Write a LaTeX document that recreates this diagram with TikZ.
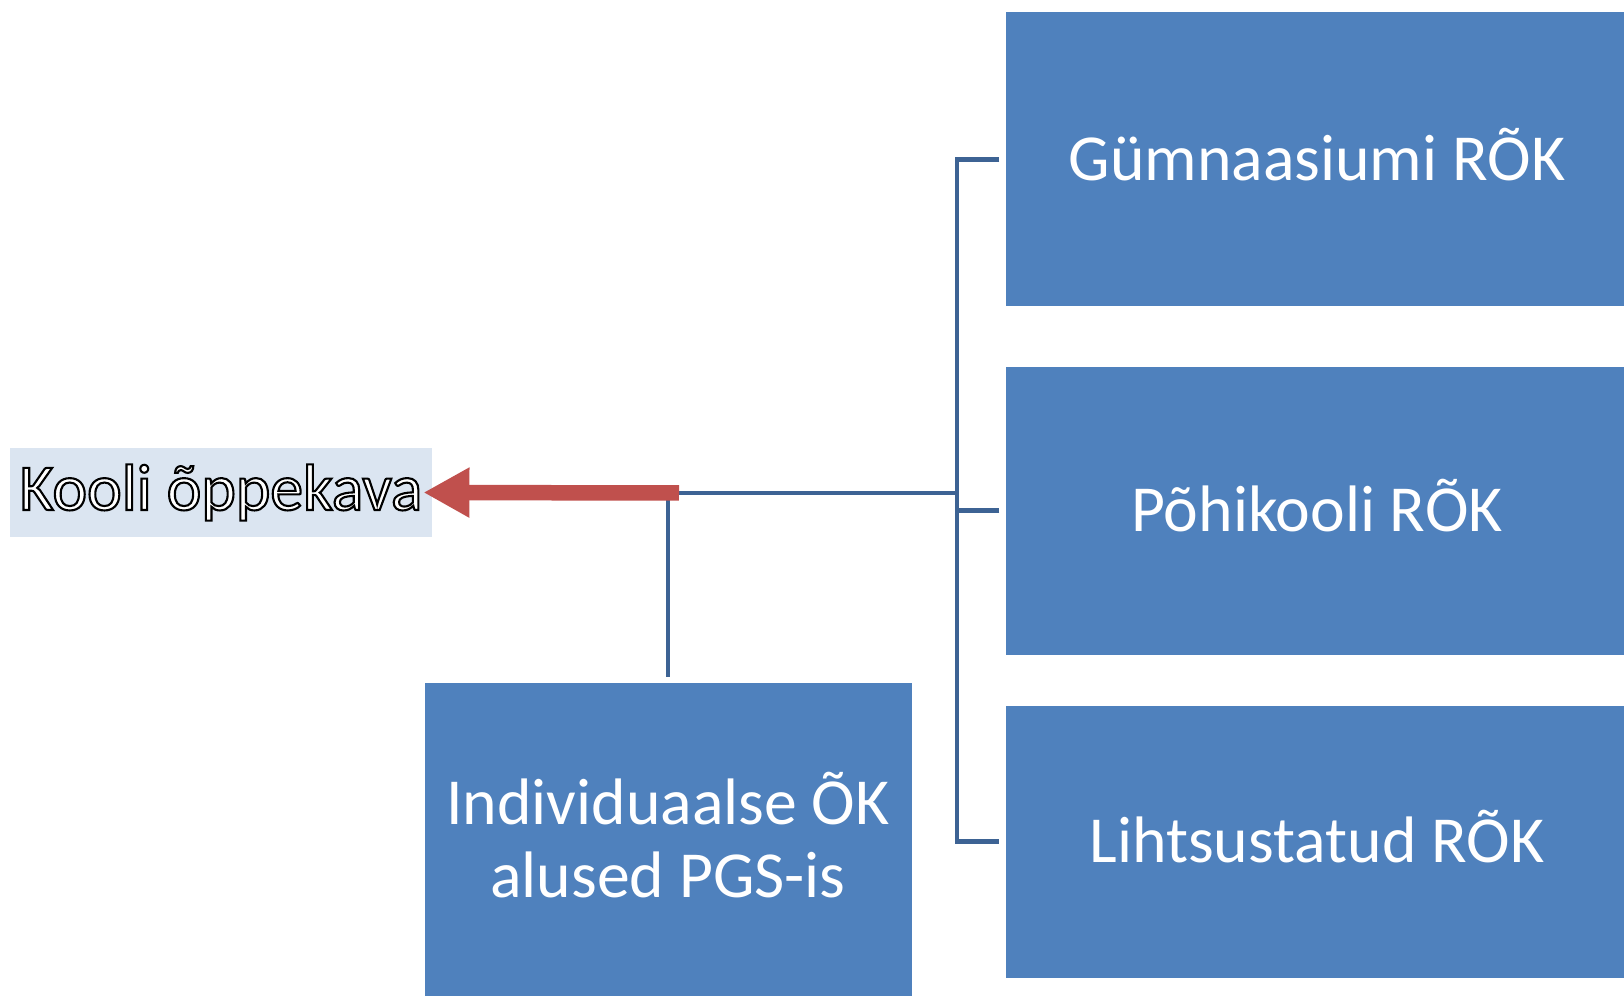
\documentclass[tikz,border=0pt]{standalone}
\usepackage{fontspec}
\setmainfont{Carlito}
\usetikzlibrary{arrows.meta}
\newcommand{\outlined}[1]{\special{pdf:literal 2 Tr 0.6 w 0 G}#1\special{pdf:literal 0 Tr}}
\definecolor{rokblue}{HTML}{4F81BD}
\definecolor{linkblue}{HTML}{3D6394}
\definecolor{arrowred}{HTML}{C0504D}
\definecolor{paleblue}{HTML}{DBE5F1}
\tikzset{rokbox/.style = {fill = rokblue, text = white, align = center, inner sep = 0, text depth = 0.1cm,
                          font = \fontsize{18.7}{20.6}\selectfont}}
\tikzset{link/.style = {draw = linkblue, line width = 1.4pt}}
\tikzset{bigarrow/.style = {draw = arrowred, line width = 0.155cm,
                            -{Triangle[length = 0.46cm, width = 0.47cm]}}}

\begin{document}
\begin{tikzpicture}
    \useasboundingbox (0, 0) rectangle (16.24, 9.95);

    \node [rokbox, minimum width = 6.22cm, minimum height = 2.94cm] (gym) at (13.17, 8.355) {Gümnaasiumi RÕK};
    \node [rokbox, minimum width = 6.22cm, minimum height = 2.88cm] (pohi) at (13.17, 4.844) {Põhikooli RÕK};
    \node [rokbox, minimum width = 6.22cm, minimum height = 2.72cm] (liht) at (13.17, 1.535) {Lihtsustatud RÕK};
    \node [rokbox, minimum width = 4.87cm, minimum height = 3.13cm] (indiv) at (6.68, 1.55) {Individuaalse ÕK\\alused PGS-is};

    \node [fill = paleblue, text = white, inner sep = 0, minimum width = 4.215cm, minimum height = 0.88cm,
           font = \fontsize{18.7}{20}\selectfont] (kooli) at (2.21, 5.025) {\outlined{Kooli õppekava}};

    \coordinate (bus) at (9.57, 5.02);
    \coordinate (join) at (6.79, 5.02);

    \draw [link] ([xshift = -0.06cm] gym.west) -| (bus) |- ([xshift = -0.06cm] liht.west);
    \draw [link] ([xshift = -0.06cm] pohi.west) -- (pohi.west -| bus);
    \draw [link] (bus) -- (join);
    \draw [link] ([yshift = 0.06cm] indiv.north) -- (indiv.north |- join);

    \draw [bigarrow] (join) -- ([xshift = -0.09cm] kooli.east);
  \end{tikzpicture}
\end{document}
